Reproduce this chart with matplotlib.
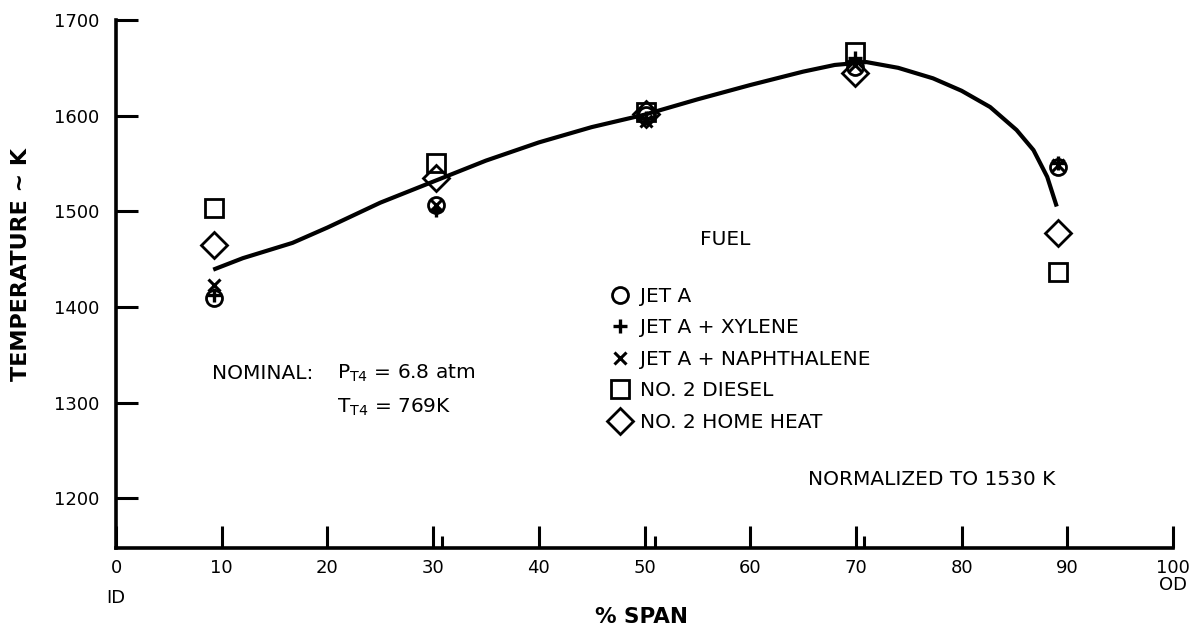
import numpy as np
import matplotlib.pyplot as plt
from matplotlib.ticker import FixedLocator

plt.rcParams['font.family'] = ['DejaVu Sans']
plt.rcParams['mathtext.default'] = 'regular'

# % span stations where the rakes were read
span = [9.3, 30.3, 50.1, 69.9, 89.1]

jet_a = [1409, 1507, 1601, 1651, 1546]
jet_a_xylene = [1412, 1501, 1598, 1660, 1551]
jet_a_naph = [1423, 1507, 1594, 1653, 1548]
diesel = [1503, 1551, 1604, 1667, 1437]
home_heat = [1465, 1535, 1602, 1645, 1477]

# faired curve
curve_x = [9.2, 12, 16.7, 20, 25, 30, 35, 40, 45, 50, 55, 60, 65, 68, 71,
           74, 77.3, 80, 82.7, 85.2, 86.8, 88.1, 89.0]
curve_y = [1439, 1451, 1467, 1483, 1509, 1531, 1553, 1572, 1588, 1601, 1617,
           1632, 1646, 1653, 1656, 1650, 1639, 1626, 1609, 1585, 1564, 1536, 1505]

xticks = [0, 10, 20, 30, 40, 50, 60, 70, 80, 90, 100]
minor_xticks = [30.8, 51, 70.8]
yticks = [1200, 1300, 1400, 1500, 1600, 1700]

fig = plt.figure(figsize=(12.01, 6.32), dpi=100)
ax = fig.add_axes([116/1201, 1 - 548/632, (1173-116)/1201, (548-20)/632])

ax.plot(curve_x, curve_y, color='black', lw=3, solid_capstyle='butt', zorder=2)

mk = dict(color='black', linestyle='none', markerfacecolor='none', zorder=3)
h1, = ax.plot(span, jet_a, marker='o', markersize=11.5, markeredgewidth=2.0, **mk)
h2, = ax.plot(span, jet_a_xylene, marker='+', markersize=10, markeredgewidth=2.4, **mk)
h3, = ax.plot(span, jet_a_naph, marker='x', markersize=8, markeredgewidth=2.2, **mk)
h4, = ax.plot(span, diesel, marker='s', markersize=13, markeredgewidth=2.0, **mk)
h5, = ax.plot(span, home_heat, marker='D', markersize=13, markeredgewidth=2.0, **mk)

ax.set_xlim(0, 100)
ax.set_ylim(1148, 1700)
ax.spines['top'].set_visible(False)
ax.spines['right'].set_visible(False)
ax.spines['left'].set_linewidth(2.6)
ax.spines['bottom'].set_linewidth(2.6)

ax.set_xticks(xticks)
ax.xaxis.set_minor_locator(FixedLocator(minor_xticks))
ax.set_yticks(yticks)
ax.tick_params(axis='both', which='major', direction='in', length=16, width=2.2,
               labelsize=13, pad=8)
ax.tick_params(axis='x', which='minor', direction='in', length=9, width=2.2)
ax.tick_params(axis='y', which='major', pad=12)

ax.set_xlabel('% SPAN', fontsize=15.5, fontweight='bold', va='top')
ax.xaxis.set_label_coords(0.497, -0.112)
ax.set_ylabel('TEMPERATURE ~ K', fontsize=16, fontweight='bold')
ax.yaxis.set_label_coords(-0.08, 0.536)

ax.text(0, -0.095, 'ID', transform=ax.transAxes, ha='center', va='center', fontsize=13)
ax.text(1, -0.07, 'OD', transform=ax.transAxes, ha='center', va='center', fontsize=13)

ax.text(57.6, 1465, 'FUEL', ha='center', va='baseline', fontsize=14.5)
ax.text(9.1, 1325, 'NOMINAL:', ha='left', va='baseline', fontsize=14.5)
ax.text(20.9, 1325, 'P$_{T4}$ = 6.8 atm', ha='left', va='baseline', fontsize=14.5)
ax.text(20.9, 1289, 'T$_{T4}$ = 769K', ha='left', va='baseline', fontsize=14.5)
ax.text(65.5, 1214, 'NORMALIZED TO 1530 K', ha='left', va='baseline', fontsize=14.5)

ax.legend([h1, h2, h3, h4, h5],
          ['JET A', 'JET A + XYLENE', 'JET A + NAPHTHALENE', 'NO. 2 DIESEL',
           'NO. 2 HOME HEAT'],
          loc='upper left', bbox_to_anchor=(612/1201, 1 - 287/632),
          bbox_transform=fig.transFigure, frameon=False, fontsize=14.5,
          handlelength=0.8, handletextpad=0.6, labelspacing=0.62, borderpad=0,
          borderaxespad=0)

fig.savefig('out.png', dpi=100)
